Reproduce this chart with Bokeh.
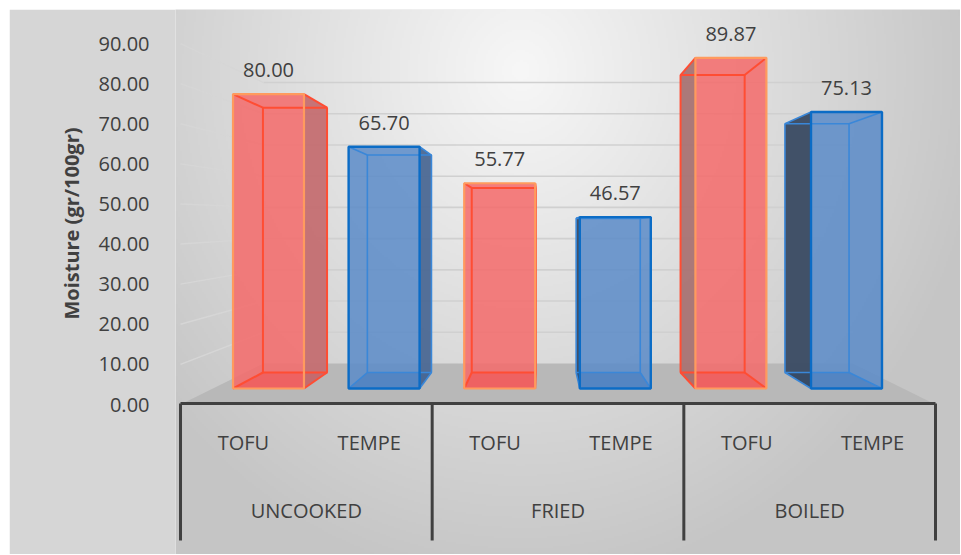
import numpy as np
from bokeh.plotting import figure
from bokeh.models import Range1d, FixedTicker, NumeralTickFormatter, ColumnDataSource, Title
from bokeh.core.properties import value
from bokeh.embed import file_html
from bokeh.resources import INLINE

# ---------------- data ----------------
groups = ["UNCOOKED", "FRIED", "BOILED"]
items = ["TOFU", "TEMPE"]
tofu = [80.00, 55.77, 89.87]
tempe = [65.70, 46.57, 75.13]
y_ticks = [0, 10, 20, 30, 40, 50, 60, 70, 80, 90]
y_title = "Moisture (gr/100gr)"

# ---------------- layout (page pixels) ----------------
OX, OY = 9, 9                                  # figure origin on the page
W, H = 951, 545
FL, FR, FT, FB = 175, OX + W, OY, OY + H       # plot frame on the page
# perspective planes: (centre x, px per category, baseline y, px per unit)
PLANES = {
    "A": (557.5, 125.83, 404.0, 4.011),   # front (axis) plane
    "F": (557.0, 115.6, 388.0, 3.68),     # bar front faces
    "B": (555.5, 104.4, 372.0, 3.31),     # bar back faces
    "W": (557.5, 98.17, 363.0, 3.122),    # back wall
}


def xr(p):
    cx, sx, by, sy = PLANES[p]
    return Range1d(3 + (FL - cx) / sx, 3 + (FR - cx) / sx)


def yr(p):
    cx, sx, by, sy = PLANES[p]
    return Range1d((by - FB) / sy, (by - FT) / sy)


def to_A(p, u, v):
    cx, sx, by, sy = PLANES[p]
    px = cx + sx * (u - 3)
    py = by - sy * v
    ax, asx, aby, asy = PLANES["A"]
    return 3 + (px - ax) / asx, (aby - py) / asy


FONT = value("Open Sans")
TXT = "#404040"

p = figure(width=W, height=H, x_range=xr("A"), y_range=yr("A"),
           output_backend="svg", toolbar_location=None, x_axis_location=None,
           min_border_left=FL - OX, min_border_right=0, min_border_top=0, min_border_bottom=0)
p.margin = (OY, 0, 0, OX)
p.extra_x_ranges = {k: xr(k) for k in ("F", "B", "W")}
p.extra_y_ranges = {k: yr(k) for k in ("F", "B", "W")}
p.xgrid.visible = False
p.ygrid.visible = False
p.outline_line_color = None
p.border_fill_color = "#d6d6d6"
p.background_fill_color = "#e4e4e4"

# ---------------- background gradient ----------------
nx, ny = 393, 273
xs = FL + (np.arange(nx) + 0.5) * (FR - FL) / nx
ys = FB - (np.arange(ny) + 0.5) * (FB - FT) / ny
X, Y = np.meshgrid(xs, ys)
r = np.sqrt(((X - 520) / 470.0) ** 2 + ((Y - 70) / 520.0) ** 2)
g = (247 - 50 * np.clip(r, 0, 1)).astype(np.uint8)
img = np.empty((ny, nx), dtype=np.uint32)
view = img.view(dtype=np.uint8).reshape((ny, nx, 4))
view[..., 0] = g
view[..., 1] = g
view[..., 2] = g
view[..., 3] = 255
xa = p.x_range
ya = p.y_range
p.image_rgba(image=[img], x=xa.start, y=ya.start, dw=xa.end - xa.start, dh=ya.end - ya.start)

# ---------------- floor ----------------
bx1, by1 = to_A("W", 6, 0)
bx0, by0 = to_A("W", 0, 0)
p.patch(x=[0, 6, bx1, bx0], y=[0, 0, by1, by0], fill_color="#b8b8b8", line_color=None)

# ---------------- gridlines ----------------
grid_vals = y_ticks[1:]
p.segment(x0=[0] * len(grid_vals), x1=[6] * len(grid_vals), y0=grid_vals, y1=grid_vals,
          x_range_name="W", y_range_name="W", line_color="#d0d0d0", line_width=1.6)
sw = [to_A("W", 0, t) for t in grid_vals]
p.segment(x0=[0] * len(grid_vals), y0=grid_vals, x1=[s[0] for s in sw], y1=[s[1] for s in sw],
          line_color="#d6d6d6", line_width=1.4)

# ---------------- bars ----------------
vals = []
names = []
for gi, gname in enumerate(groups):
    vals += [tofu[gi], tempe[gi]]
    names += ["TOFU", "TEMPE"]
us = [i + 0.5 for i in range(len(vals))]
WID = 0.614
HW = WID / 2

STYLE = {
    "TOFU": dict(front="#f46a6a", bottom="#c83a3a", side_r="#c46e71", side_l="#a87373",
                 edge_f="#ff9a5e", edge_b="#ff4d33", lw_f=2.2, lw_b=2.0),
    "TEMPE": dict(front="#5a8bc8", bottom="#3465a0", side_r="#4b6894", side_l="#394a62",
                  edge_f="#0b6cc6", edge_b="#3a87d8", lw_f=2.4, lw_b=1.6),
}

for u, v, nm in zip(us, vals, names):
    st = STYLE[nm]
    pts = [to_A("F", u - HW, 0), to_A("F", u + HW, 0), to_A("B", u + HW, 0), to_A("B", u - HW, 0)]
    p.patch(x=[q[0] for q in pts], y=[q[1] for q in pts], fill_color=st["bottom"], line_color=None)
    fcx = to_A("F", u, 0)[0]
    bcx = to_A("B", u, 0)[0]
    e = u + HW if bcx > fcx else u - HW
    side_col = st["side_r"] if bcx > fcx else st["side_l"]
    pts = [to_A("F", e, 0), to_A("F", e, v), to_A("B", e, v), to_A("B", e, 0)]
    p.patch(x=[q[0] for q in pts], y=[q[1] for q in pts], fill_color=side_col, fill_alpha=0.95,
            line_color=None)

src = ColumnDataSource(dict(u=us, v=vals, lab=[f"{x:.2f}" for x in vals],
                            front=[STYLE[n]["front"] for n in names],
                            ef=[STYLE[n]["edge_f"] for n in names],
                            eb=[STYLE[n]["edge_b"] for n in names],
                            lwf=[STYLE[n]["lw_f"] for n in names],
                            lwb=[STYLE[n]["lw_b"] for n in names]))

p.vbar(x="u", top="v", bottom=0, width=WID, source=src, x_range_name="F", y_range_name="F",
       fill_color="front", fill_alpha=0.85, line_color=None)
p.vbar(x="u", top="v", bottom=0, width=WID, source=src, x_range_name="B", y_range_name="B",
       fill_color=None, line_color="eb", line_width="lwb")
for u, v, nm in zip(us, vals, names):
    st = STYLE[nm]
    x0s, y0s, x1s, y1s = [], [], [], []
    for ex in (u - HW, u + HW):
        for ey in (0, v):
            a = to_A("F", ex, ey)
            b = to_A("B", ex, ey)
            x0s.append(a[0]); y0s.append(a[1]); x1s.append(b[0]); y1s.append(b[1])
    p.segment(x0=x0s, y0=y0s, x1=x1s, y1=y1s, line_color=st["edge_b"], line_width=st["lw_b"])
p.vbar(x="u", top="v", bottom=0, width=WID, source=src, x_range_name="F", y_range_name="F",
       fill_color=None, line_color="ef", line_width="lwf")

p.text(x="u", y="v", text="lab", source=src, x_range_name="F", y_range_name="F",
       y_offset=-24, text_align="center", text_baseline="middle",
       text_font=FONT, text_font_size="20px", text_color=TXT)

# ---------------- category axis ----------------
p.segment(x0=[0], y0=[0.25], x1=[6], y1=[0.25], line_color="#404040", line_width=3)
sep_u = [0, 2, 4, 6]
sep_bottom = (404 - 540) / 4.011
p.segment(x0=sep_u, y0=[0.25] * 4, x1=sep_u, y1=[sep_bottom] * 4, line_color="#404040", line_width=3)

p.text(x=us, y=[(404 - 442) / 4.011] * len(us), text=names, text_align="center",
       text_baseline="middle", text_font=FONT, text_font_size="20px", text_color=TXT)
p.text(x=[1, 3, 5], y=[(404 - 510) / 4.011] * 3, text=groups, text_align="center",
       text_baseline="middle", text_font=FONT, text_font_size="20px", text_color=TXT)

# ---------------- value axis ----------------
ax = p.yaxis[0]
ax.ticker = FixedTicker(ticks=y_ticks, minor_ticks=[])
ax.formatter = NumeralTickFormatter(format="0.00")
ax.axis_line_color = None
ax.major_tick_line_color = None
ax.minor_tick_line_color = None
ax.major_label_standoff = 20
ax.major_label_text_font = "Open Sans"
ax.major_label_text_font_size = "20px"
ax.major_label_text_color = TXT

title = Title(text=y_title, align="right", offset=118, standoff=22,
              text_font="Open Sans", text_font_style="bold", text_font_size="20px",
              text_color=TXT)
p.add_layout(title, "left")

open("out.html", "w").write(file_html(p, INLINE))
